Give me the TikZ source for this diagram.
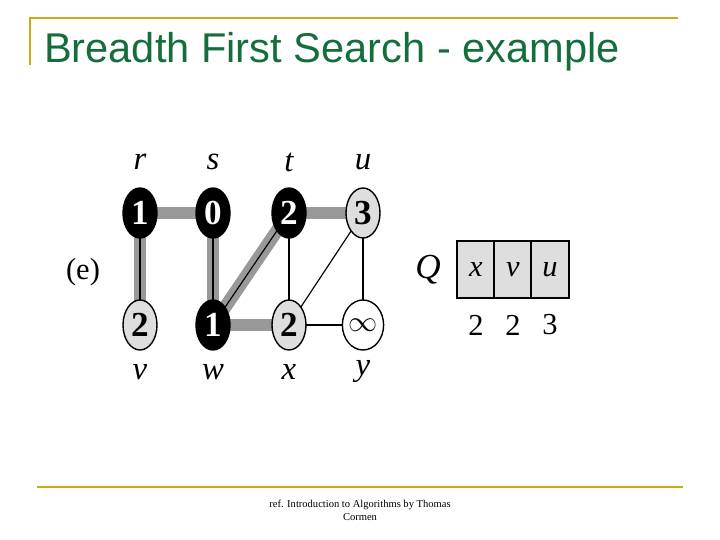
\documentclass[tikz,border=0pt]{standalone}
\usepackage{fontspec}
\setmainfont{Liberation Serif}
\newfontfamily\titlefont{Liberation Sans}
\usetikzlibrary{shapes.geometric,calc}
\definecolor{gold}{RGB}{204,170,20}
\definecolor{titlegreen}{RGB}{20,110,60}
\definecolor{lightfill}{RGB}{222,222,222}
\tikzset{
  vert/.style={ellipse, draw, line width=1.2pt, minimum width=1.02cm, minimum height=1.5cm, inner sep=0pt, font=\fontsize{30}{30}\selectfont\bfseries},
  black vert/.style={vert, fill=black, text=white},
  gray vert/.style={vert, fill=lightfill},
  white vert/.style={vert, fill=white},
  treeedge/.style={line width=11pt, draw=gray!80},
  plain/.style={line width=1pt},
  vlabel/.style={font=\fontsize{28}{28}\selectfont\itshape},
  cell/.style={draw, line width=1.5pt, fill=lightfill, minimum width=1.12cm, minimum height=1.71cm, font=\fontsize{26}{26}\selectfont\itshape}
}
\begin{document}
\begin{tikzpicture}[x=0.03cm, y=-0.03cm]
  \useasboundingbox (0,0) rectangle (720,540);

  % frame lines
  \draw[gold, line width=2pt] (30,65) -- (30,18) -- (678,18);
  \draw[gold, line width=2pt] (37,487) -- (683,487);
  \node[anchor=west, text=titlegreen, font=\titlefont\fontsize{35.5}{36}\selectfont] (title) at (40,52) {Breadth First Search - example};

  % vertex positions
  \foreach \n/\px/\py in {r/140/213, s/213/213, t/289/213, u/363/213, v/140/325, w/213/325, x/289/325, y/363/325}
    \coordinate (\n) at (\px,\py);

  % edges
  \foreach \a/\b in {r/s, r/v, s/w, w/t, w/x, t/u}
    \draw[treeedge] (\a) -- (\b);
  \foreach \a/\b in {r/v, s/w, w/t, t/x, x/u, u/y, x/y}
    \draw[plain] (\a) -- (\b);

  % vertices
  \node[black vert] (r-v) at (r) {1};
  \node[black vert] (s-v) at (s) {0};
  \node[black vert] (t-v) at (t) {2};
  \node[gray vert]  (u-v) at (u) {3};
  \node[gray vert]  (v-v) at (v) {2};
  \node[black vert] (w-v) at (w) {1};
  \node[gray vert]  (x-v) at (x) {2};
  \node[white vert] (y-v) at (y) {$\infty$};

  % vertex names
  \foreach \n in {r, s, t, u}
    \node[vlabel] (\n-name) at ($(\n)+(0,-51)$) {\n};
  \foreach \n in {v, w, x, y}
    \node[vlabel] (\n-name) at ($(\n)+(0,47)$) {\n};

  \node[font=\fontsize{26}{26}\selectfont] (case) at (83,272) {(e)};

  % queue
  \node[font=\fontsize{30}{30}\selectfont\itshape] (Q) at (428,270) {Q};
  \node[cell] (q1) at (476,269.5) {x};
  \node[cell] (q2) at (513,269.5) {v};
  \node[cell] (q3) at (550,269.5) {u};
  \node[font=\fontsize{26}{26}\selectfont] (d1) at (476,325) {2};
  \node[font=\fontsize{26}{26}\selectfont] (d2) at (513,325) {2};
  \node[font=\fontsize{26}{26}\selectfont] (d3) at (550,325) {3};

  % footer
  \node[align=center, font=\fontsize{9}{11}\selectfont] (foot) at (360,510) {ref. Introduction to Algorithms by Thomas\\Cormen};
\end{tikzpicture}
\end{document}
